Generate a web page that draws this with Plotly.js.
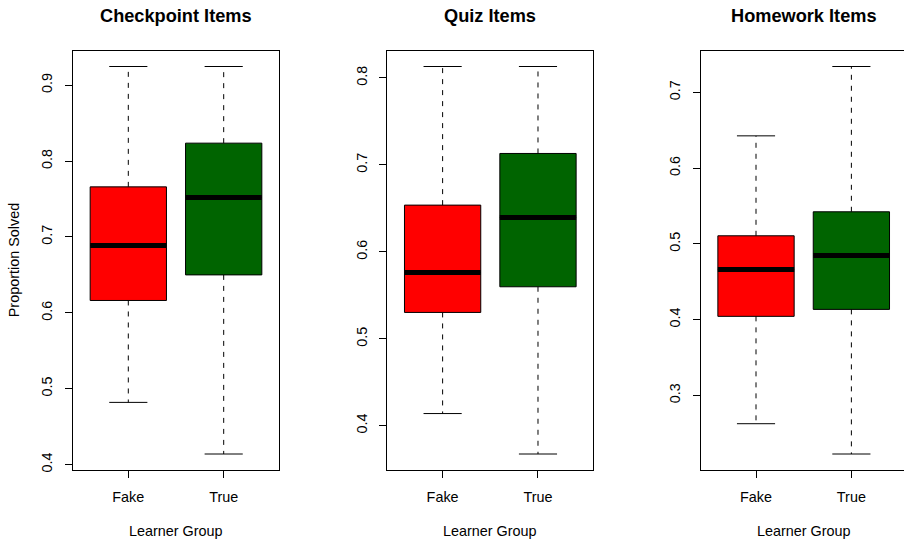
<!DOCTYPE html>
<html>
<head>
<meta charset="utf-8">
<script src="https://cdn.plot.ly/plotly-3.0.1.min.js"></script>
<style>
  html, body { margin: 0; padding: 0; overflow: hidden; background: #fff; }
  #chart { width: 908px; height: 544px; }
</style>
</head>
<body>
<div id="chart"></div>
<script>
// ---- data ----
const panelTitles = ['Checkpoint Items', 'Quiz Items', 'Homework Items'];
const groups = ['Fake', 'True'];
const groupColors = ['#FF0000', '#006400'];
const xLabel = 'Learner Group';
const yLabel = 'Proportion Solved';

// one inner array per panel, [Fake, True]
const lowerWhisker = [[0.482, 0.414], [0.414, 0.3675], [0.2625, 0.2225]];
const q1Values     = [[0.6163, 0.650], [0.5303, 0.5598], [0.4043, 0.4135]];
const medianValues = [[0.6888, 0.752], [0.5763, 0.6395], [0.4663, 0.4848]];
const q3Values     = [[0.766, 0.8236], [0.6537, 0.7131], [0.5107, 0.5424]];
const upperWhisker = [[0.9246, 0.9246], [0.8131, 0.8131], [0.6427, 0.7343]];

// ---- layout constants (pixels) ----
const W = 908, H = 544;
const panelLeft = [73, 387.3, 700.7];
const panelWidth = 206;
const plotTop = 51, plotBottom = 469.5;
const font = 'Liberation Sans, Arial, Helvetica, sans-serif';
const axisFontSize = 14.4, titleFontSize = 18.2;
const boxWidth = 0.8, capWidth = 0.4;

const traces = [];
const layout = {
  width: W, height: H,
  margin: {l: 0, r: 0, t: 0, b: 0},
  paper_bgcolor: '#fff', plot_bgcolor: '#fff',
  showlegend: false,
  font: {family: font, color: '#000', size: axisFontSize},
  annotations: []
};

const yDomain = [(H - plotBottom) / H, (H - plotTop) / H];

panelTitles.forEach((title, p) => {
  const sfx = p === 0 ? '' : String(p + 1);
  const xa = 'x' + sfx, ya = 'y' + sfx;
  const allVals = lowerWhisker[p].concat(upperWhisker[p]);
  const lo = Math.min(...allVals), hi = Math.max(...allVals);
  const pad = (hi - lo) * 0.04;
  const xDomain = [panelLeft[p] / W, (panelLeft[p] + panelWidth) / W];

  groups.forEach((g, i) => {
    const c = i + 1;
    traces.push({
      type: 'box', xaxis: xa, yaxis: ya,
      x: [c], q1: [q1Values[p][i]], median: [medianValues[p][i]], q3: [q3Values[p][i]],
      lowerfence: [q1Values[p][i]], upperfence: [q3Values[p][i]],
      width: boxWidth, whiskerwidth: 0, boxpoints: false,
      fillcolor: groupColors[i], line: {color: '#000', width: 1},
      hoverinfo: 'skip', name: g
    });
    traces.push({
      type: 'scatter', mode: 'lines', xaxis: xa, yaxis: ya,
      x: [c, c, null, c, c],
      y: [q3Values[p][i], upperWhisker[p][i], null, q1Values[p][i], lowerWhisker[p][i]],
      line: {color: '#000', width: 1, dash: '5px,6px'}, hoverinfo: 'skip'
    });
    traces.push({
      type: 'scatter', mode: 'lines', xaxis: xa, yaxis: ya,
      x: [c - capWidth / 2, c + capWidth / 2, null, c - capWidth / 2, c + capWidth / 2],
      y: [upperWhisker[p][i], upperWhisker[p][i], null, lowerWhisker[p][i], lowerWhisker[p][i]],
      line: {color: '#000', width: 1}, hoverinfo: 'skip'
    });
    traces.push({
      type: 'scatter', mode: 'lines', xaxis: xa, yaxis: ya,
      x: [c - boxWidth / 2, c + boxWidth / 2],
      y: [medianValues[p][i], medianValues[p][i]],
      line: {color: '#000', width: 5}, hoverinfo: 'skip'
    });
  });

  layout['xaxis' + sfx] = {
    domain: xDomain, anchor: ya,
    range: [0.42, 2.58], tickmode: 'array', tickvals: [1, 2], ticktext: groups,
    ticks: 'outside', ticklen: 7, tickcolor: '#000', tickwidth: 1,
    ticklabelstandoff: 7,
    showline: true, mirror: true, linecolor: '#000', linewidth: 1,
    showgrid: false, zeroline: false, fixedrange: true,
    tickfont: {family: font, size: axisFontSize, color: '#000'}
  };
  layout['yaxis' + sfx] = {
    domain: yDomain, anchor: xa,
    range: [lo - pad, hi + pad], tick0: 0, dtick: 0.1,
    tickangle: -90, ticks: 'outside', ticklen: 7, tickcolor: '#000', tickwidth: 1,
    ticklabelstandoff: 7,
    showline: true, mirror: true, linecolor: '#000', linewidth: 1,
    showgrid: false, zeroline: false, fixedrange: true,
    tickfont: {family: font, size: axisFontSize, color: '#000'}
  };

  const cx = (panelLeft[p] + panelWidth / 2) / W;
  layout.annotations.push({
    xref: 'paper', yref: 'paper', x: cx, y: (H - 16) / H,
    xanchor: 'center', yanchor: 'middle', showarrow: false,
    text: '<b>' + title + '</b>', font: {family: font, size: titleFontSize, color: '#000'}
  });
  layout.annotations.push({
    xref: 'paper', yref: 'paper', x: cx, y: (H - 531) / H,
    xanchor: 'center', yanchor: 'middle', showarrow: false,
    text: xLabel, font: {family: font, size: axisFontSize, color: '#000'}
  });
});

layout.annotations.push({
  xref: 'paper', yref: 'paper', x: 14 / W, y: 1 - ((plotTop + plotBottom) / 2) / H,
  xanchor: 'center', yanchor: 'middle', showarrow: false, textangle: -90,
  text: yLabel, font: {family: font, size: axisFontSize, color: '#000'}
});

Plotly.newPlot('chart', traces, layout, {staticPlot: true, displayModeBar: false});
</script>
</body>
</html>
